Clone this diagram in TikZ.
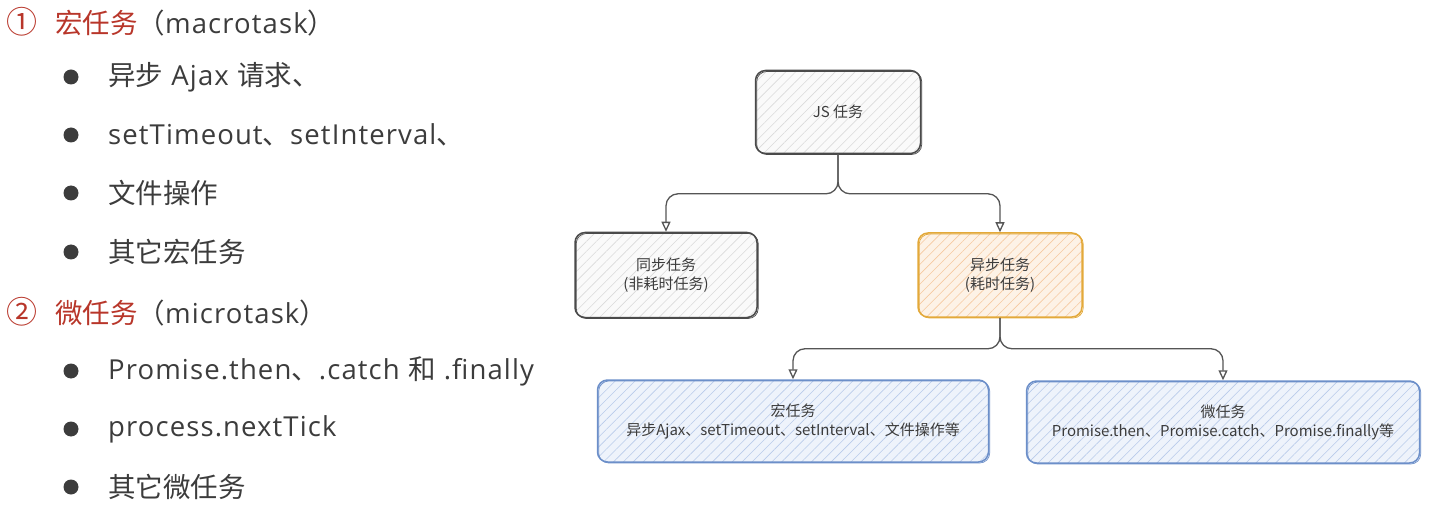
\documentclass[tikz,border=0pt]{standalone}
\usepackage{fontspec}
\setmainfont{Open Sans}[LetterSpace=4]
\newfontfamily\cn{Noto Sans CJK SC}
\usetikzlibrary{patterns.meta,arrows.meta,calc}
\definecolor{hred}{HTML}{B8362A}
\definecolor{txt}{HTML}{3C3C3C}
\definecolor{gborder}{HTML}{4A4A4A}
\definecolor{ghatch}{HTML}{DADADA}
\definecolor{gfill}{HTML}{FAFAFA}
\definecolor{oborder}{HTML}{E3A93A}
\definecolor{ohatch}{HTML}{F6C9A0}
\definecolor{ofill}{HTML}{FDF2E6}
\definecolor{bborder}{HTML}{6C8FC9}
\definecolor{bhatch}{HTML}{B9CBEA}
\definecolor{bfill}{HTML}{EEF3FB}
\definecolor{conncol}{HTML}{555555}
\tikzset{
  box/.style={rounded corners=10pt, line width=1.5pt, align=center,
    font=\cn\fontsize{15}{19}\selectfont, text=txt, inner sep=0pt},
  graybox/.style={box, draw=gborder, preaction={fill=gfill},
    pattern={Lines[angle=45,distance=7pt,line width=0.6pt]}, pattern color=ghatch,
    postaction={draw=gborder, line width=0.7pt, transform canvas={xshift=1.2pt,yshift=-1pt}}},
  orangebox/.style={box, draw=oborder, preaction={fill=ofill},
    pattern={Lines[angle=45,distance=7pt,line width=0.6pt]}, pattern color=ohatch,
    postaction={draw=oborder, line width=0.7pt, transform canvas={xshift=1.2pt,yshift=-1pt}}},
  bluebox/.style={box, draw=bborder, preaction={fill=bfill},
    pattern={Lines[angle=45,distance=7pt,line width=0.6pt]}, pattern color=bhatch,
    postaction={draw=bborder, line width=0.7pt, transform canvas={xshift=1.2pt,yshift=-1pt}}},
  conn/.style={draw=conncol, line width=1.3pt, rounded corners=12pt,
    -{Triangle[open,length=10pt,width=9pt]}},
  heading/.style={anchor=west, inner sep=0pt, font=\fontsize{27.5}{32}\selectfont},
  item/.style={anchor=west, inner sep=0pt, text=txt, font=\fontsize{27.5}{32}\selectfont},
  dot/.style={circle, fill=txt, inner sep=0pt, minimum size=15pt}
}
\begin{document}
\begin{tikzpicture}[x=1pt,y=-1pt]
\useasboundingbox (0,0) rectangle (1437,521);
% left text
\node[heading] (h1) at (6,22) {\textcolor{hred}{{\cn\fontsize{31}{31}\selectfont ①}\hspace{18pt}{\cn 宏任务}}\textcolor{txt}{{\cn （}macrotask{\cn ）}}};
\node[dot] (d1) at (71,77) {};
\node[item] (t1) at (108,77) {{\cn 异步} Ajax {\cn 请求、}};
\node[dot] (d2) at (71,135) {};
\node[item] (t2) at (108,135) {setTimeout{\cn 、}setInterval{\cn 、}};
\node[dot] (d3) at (71,193) {};
\node[item] (t3) at (108,193) {\cn 文件操作};
\node[dot] (d4) at (71,252) {};
\node[item] (t4) at (108,252) {\cn 其它宏任务};
\node[heading] (h2) at (6,312) {\textcolor{hred}{{\cn\fontsize{31}{31}\selectfont ②}\hspace{18pt}{\cn 微任务}}\textcolor{txt}{{\cn （}microtask{\cn ）}}};
\node[dot] (d5) at (71,371) {};
\node[item] (t5) at (108,371) {Promise.then{\cn 、}.catch {\cn 和} .finally};
\node[dot] (d6) at (71,429) {};
\node[item] (t6) at (108,429) {process.nextTick};
\node[dot] (d7) at (71,487) {};
\node[item] (t7) at (108,487) {\cn 其它微任务};
% diagram
\node[graybox, minimum width=165pt, minimum height=83pt] (js) at (838,112) {JS 任务};
\node[graybox, minimum width=182pt, minimum height=85pt] (sync) at (666,275) {同步任务\\(非耗时任务)};
\node[orangebox, minimum width=164pt, minimum height=84pt] (async) at (1000,275) {异步任务\\(耗时任务)};
\node[bluebox, minimum width=391pt, minimum height=82pt] (macro) at (793,421) {宏任务\\异步Ajax、setTimeout、setInterval、文件操作等};
\node[bluebox, minimum width=393pt, minimum height=82pt] (micro) at (1223,422) {微任务\\Promise.then、Promise.catch、Promise.finally等};
\draw[conn] (js.south) -- ++(0,40) -| (sync.north);
\draw[conn] (js.south) -- ++(0,40) -| (async.north);
\draw[conn] (async.south) -- ++(0,31) -| (macro.north);
\draw[conn] (async.south) -- ++(0,31) -| (micro.north);
\end{tikzpicture}
\end{document}
